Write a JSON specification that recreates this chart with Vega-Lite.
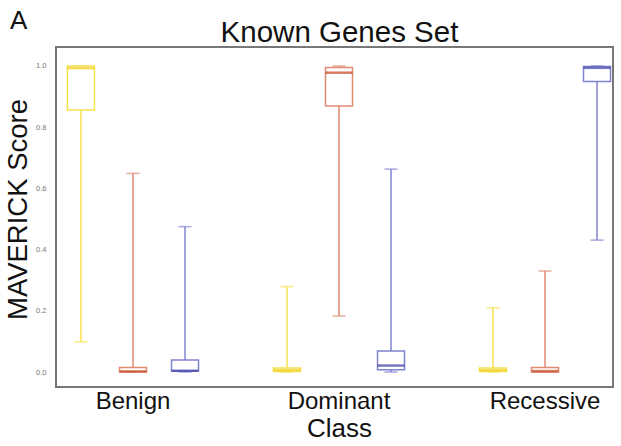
{
  "$schema": "https://vega.github.io/schema/vega-lite/v6.json",
  "autosize": {"type": "none"},
  "width": 557,
  "height": 340,
  "padding": {"left": 56, "top": 47, "right": 8, "bottom": 59},
  "background": "white",
  "title": {"text": "A", "anchor": "start", "frame": "group", "font": "Liberation Sans", "fontSize": 26, "fontWeight": "normal", "color": "#111", "dx": -46, "dy": 17, "offset": 0},
  "config": {
    "view": {"stroke": "#777", "strokeWidth": 2},
    "font": "Liberation Sans"
  },
  "data": {
    "values": [
      {"Class": "Benign", "Predicted": "Benign", "min": 0.099, "q1": 0.856, "median": 0.993, "q3": 1.0, "max": 1.0},
      {"Class": "Benign", "Predicted": "Dominant", "min": 0.0, "q1": 0.0, "median": 0.002, "q3": 0.015, "max": 0.649},
      {"Class": "Benign", "Predicted": "Recessive", "min": 0.0, "q1": 0.003, "median": 0.004, "q3": 0.039, "max": 0.475},
      {"Class": "Dominant", "Predicted": "Benign", "min": 0.0, "q1": 0.002, "median": 0.006, "q3": 0.013, "max": 0.279},
      {"Class": "Dominant", "Predicted": "Dominant", "min": 0.183, "q1": 0.869, "median": 0.978, "q3": 0.995, "max": 1.0},
      {"Class": "Dominant", "Predicted": "Recessive", "min": 0.0, "q1": 0.007, "median": 0.021, "q3": 0.069, "max": 0.663},
      {"Class": "Recessive", "Predicted": "Benign", "min": 0.0, "q1": 0.002, "median": 0.006, "q3": 0.013, "max": 0.21},
      {"Class": "Recessive", "Predicted": "Dominant", "min": 0.0, "q1": 0.0, "median": 0.003, "q3": 0.015, "max": 0.33},
      {"Class": "Recessive", "Predicted": "Recessive", "min": 0.431, "q1": 0.949, "median": 0.994, "q3": 0.998, "max": 1.0}
    ]
  },
  "layer": [
    {
      "mark": {"type": "rule", "strokeWidth": 1.5},
      "encoding": {
        "x": {
          "field": "Class", "type": "nominal",
          "scale": {"domain": ["Benign", "Dominant", "Recessive"], "range": [-26, 592], "paddingInner": 0, "paddingOuter": 0},
          "axis": {"orient": "bottom", "title": "Class", "labelAngle": 0, "labelFontSize": 24, "titleFontSize": 26, "titleFontWeight": "normal", "labelColor": "#111", "titleColor": "#111", "ticks": false, "domain": false, "labelPadding": 2, "titlePadding": 2}
        },
        "xOffset": {"field": "Predicted", "type": "nominal", "scale": {"domain": ["Benign", "Dominant", "Recessive"], "paddingInner": 0, "paddingOuter": 0.48}},
        "y": {
          "field": "min", "type": "quantitative",
          "scale": {"domain": [-0.049, 1.062], "nice": false, "zero": false},
          "axis": {"title": "MAVERICK Score", "values": [0, 0.2, 0.4, 0.6, 0.8, 1.0], "format": ".1f", "labelFontSize": 7.5, "labelColor": "#777", "ticks": false, "domain": false, "grid": false, "labelPadding": 10, "titleFontSize": 27.5, "titleFontWeight": "normal", "titleColor": "#111", "titlePadding": 3, "titleY": 162}
        },
        "y2": {"field": "max"},
        "color": {"field": "Predicted", "type": "nominal", "legend": null, "scale": {"domain": ["Benign", "Dominant", "Recessive"], "range": ["#f7e04e", "#e08a72", "#8083d0"]}}
      }
    },
    {
      "mark": {"type": "tick", "size": 13, "thickness": 1.5},
      "encoding": {
        "x": {
          "field": "Class", "type": "nominal",
          "axis": {"orient": "top", "title": "Known Genes Set", "labels": false, "ticks": false, "domain": false, "titleFontSize": 29.5, "titleFontWeight": "normal", "titleColor": "#111", "titlePadding": 0}
        },
        "xOffset": {"field": "Predicted", "type": "nominal"},
        "y": {"field": "max", "type": "quantitative"},
        "color": {"field": "Predicted", "type": "nominal", "legend": null, "scale": {"domain": ["Benign", "Dominant", "Recessive"], "range": ["#f7e04e", "#e08a72", "#8083d0"]}}
      }
    },
    {
      "mark": {"type": "tick", "size": 13, "thickness": 1.5},
      "encoding": {
        "x": {"field": "Class", "type": "nominal", "axis": null},
        "xOffset": {"field": "Predicted", "type": "nominal"},
        "y": {"field": "min", "type": "quantitative"},
        "color": {"field": "Predicted", "type": "nominal", "legend": null, "scale": {"domain": ["Benign", "Dominant", "Recessive"], "range": ["#f7e04e", "#e08a72", "#8083d0"]}}
      }
    },
    {
      "mark": {"type": "bar", "width": 27, "fill": "white", "strokeWidth": 1.5},
      "encoding": {
        "x": {"field": "Class", "type": "nominal", "axis": null},
        "xOffset": {"field": "Predicted", "type": "nominal"},
        "y": {"field": "q1", "type": "quantitative"},
        "y2": {"field": "q3"},
        "stroke": {"field": "Predicted", "type": "nominal", "legend": null, "scale": {"domain": ["Benign", "Dominant", "Recessive"], "range": ["#f7e04e", "#e08a72", "#8083d0"]}}
      }
    },
    {
      "mark": {"type": "tick", "size": 27, "thickness": 2.5},
      "encoding": {
        "x": {"field": "Class", "type": "nominal", "axis": null},
        "xOffset": {"field": "Predicted", "type": "nominal"},
        "y": {"field": "median", "type": "quantitative"},
        "fill": {"field": "Predicted", "type": "nominal", "legend": null, "scale": {"domain": ["Benign", "Dominant", "Recessive"], "range": ["#efcc12", "#c84624", "#3c3fa4"]}}
      }
    }
  ],
  "resolve": {"axis": {"x": "independent"}, "scale": {"color": "independent", "fill": "independent", "stroke": "independent"}}
}
